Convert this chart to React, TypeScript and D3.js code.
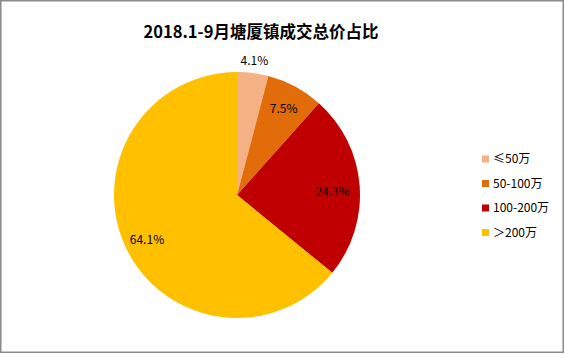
import React from "react";
import * as d3 from "d3";

const categories = ["≤50万", "50-100万", "100-200万", "＞200万"];
const values = [4.1, 7.5, 24.3, 64.1];
const colors = ["#F4B183", "#E26B0A", "#C00000", "#FFC000"];
const title = "2018.1-9月塘厦镇成交总价占比";

export default function App() {
  const W = 565, H = 357;
  const cx = 237, cy = 195, r = 123;
  const pie = d3.pie<number>().sort(null).value((d) => d)(values);
  const arc = d3.arc<d3.PieArcDatum<number>>().innerRadius(0).outerRadius(r);
  const labelR = [1.1, 0.8, 0.78, 0.81];
  const font = "'Noto Sans CJK SC', 'Noto Sans', sans-serif";
  return (
    <svg width={W} height={H} style={{ position: "absolute", left: 0, top: 0, display: "block" }}>
      <rect x={0} y={0} width={W} height={H} fill="#fff" />
      <rect x={0.75} y={0.75} width={562.5} height={351.5} fill="none" stroke="#8a8a8a" strokeWidth={1.5} />
      <text x={261} y={38} textAnchor="middle" fontFamily={font} fontWeight="bold" fontSize={16.5} fill="#000">
        {title}
      </text>
      <g transform={`translate(${cx},${cy})`}>
        {pie.map((p, i) => (
          <path key={i} d={arc(p) || ""} fill={colors[i]} />
        ))}
        {pie.map((p, i) => {
          const a = (p.startAngle + p.endAngle) / 2;
          const rr = r * labelR[i];
          const x = Math.sin(a) * rr;
          const y = -Math.cos(a) * rr;
          return (
            <text key={i} x={x} y={y + (i === 2 ? 4 : i === 3 ? 2 : 0)} dy="0.35em" textAnchor="middle" fontFamily={font} fontSize={12} fill="#000">
              {values[i].toFixed(1)}%
            </text>
          );
        })}
      </g>
      <g transform="translate(482,159)">
        {categories.map((c, i) => (
          <g key={i} transform={`translate(0,${i * 24.5})`}>
            <rect x={0} y={-3.5} width={7} height={7} fill={colors[i]} />
            <text x={11} y={0} dy="0.35em" fontFamily={font} fontSize={12} fill="#000">
              {c}
            </text>
          </g>
        ))}
      </g>
    </svg>
  );
}
